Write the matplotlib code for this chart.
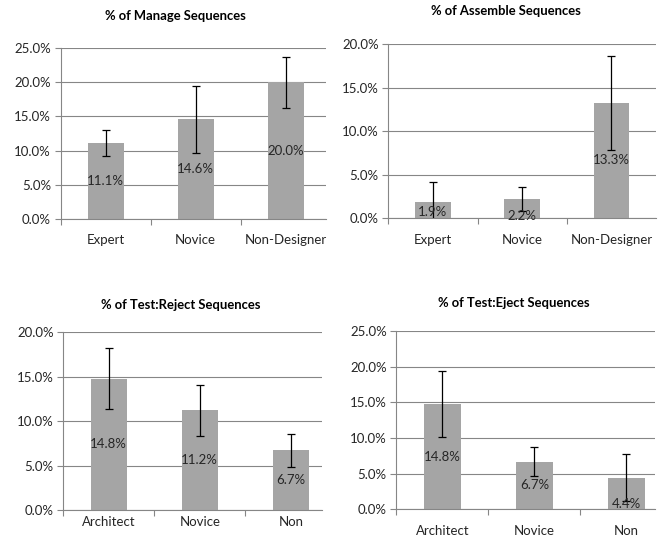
import matplotlib.pyplot as plt

plt.rcParams['font.family'] = ['Lato', 'DejaVu Sans']

# Datos de cada panel (porcentaje y error)
cat_top = ['Expert', 'Novice', 'Non-Designer']
cat_bottom = ['Architect', 'Novice', 'Non']

manage = [11.1, 14.6, 20.0]
manage_err = [1.9, 4.9, 3.75]

assemble = [1.9, 2.2, 13.3]
assemble_err = [2.3, 1.4, 5.4]

reject = [14.8, 11.2, 6.7]
reject_err = [3.4, 2.9, 1.9]

eject = [14.8, 6.7, 4.4]
eject_err = [4.6, 2.05, 3.3]

W, H = 660, 537
fig = plt.figure(figsize=(W / 100, H / 100), dpi=100)

barra = '#A5A5A5'
rejilla = '#868686'


def px_ax(left, right, top, bottom):
    return fig.add_axes([left / W, (H - bottom) / H, (right - left) / W, (bottom - top) / H])


# (titulo, categorias, valores, errores, ymax, xmax, caja px, titulo px, pad x, desplaz. etiquetas)
paneles = [
    ('% of Manage Sequences', cat_top, manage, manage_err, 25, 2.45,
     (60.7, 326.2, 48, 219), (175, 16), 11, [0, 0, 0]),
    ('% of Assemble Sequences', cat_top, assemble, assemble_err, 20, 2.5,
     (388.3, 656, 44.3, 218.3), (506, 11), 11, [-0.25, -0.8, 0]),
    ('% of Test:Reject Sequences', cat_bottom, reject, reject_err, 20, 2.34,
     (63.3, 321.7, 332.3, 510), (181, 305), 4, [0, 0, 0]),
    ('% of Test:Eject Sequences', cat_bottom, eject, eject_err, 25, 2.31,
     (396.5, 655, 331, 509.3), (514, 302.7), 11, [0, 0, -1.4]),
]

for titulo, cats, vals, errs, ymax, xmax, caja, tpos, padx, desp in paneles:
    ax = px_ax(*caja)
    x = list(range(len(cats)))
    ax.bar(x, vals, width=0.4, color=barra, zorder=2)
    ax.errorbar(x, vals, yerr=errs, fmt='none', ecolor='black', elinewidth=0.9,
                capsize=3, capthick=0.9, zorder=3)
    for xi, v, d in zip(x, vals, desp):
        ax.text(xi, v / 2 + d, f'{v:.1f}%', ha='center', va='center',
                fontsize=9.5, color='#262626', zorder=4)

    ax.set_xlim(-0.5, xmax)
    ax.set_ylim(0, ymax)
    ticks = [i * 5 for i in range(ymax // 5 + 1)]
    ax.set_yticks(ticks)
    ax.set_yticklabels([f'{t:.1f}%' for t in ticks])
    ax.yaxis.grid(True, color=rejilla, linewidth=0.8, zorder=0)
    ax.set_axisbelow(True)

    # Marcas del eje x entre categorias, etiquetas centradas
    ax.set_xticks([-0.5, 0.5, 1.5], minor=False)
    ax.set_xticklabels([])
    ax.set_xticks(x, minor=True)
    ax.set_xticklabels(cats, minor=True)
    ax.tick_params(axis='x', which='major', length=4, color=rejilla, direction='out')
    ax.tick_params(axis='x', which='minor', length=0, pad=padx, labelsize=9.5,
                   labelcolor='#262626')
    ax.tick_params(axis='y', length=4, color=rejilla, labelsize=9.5,
                   labelcolor='#262626', pad=3)

    for s in ['top', 'right']:
        ax.spines[s].set_visible(False)
    for s in ['left', 'bottom']:
        ax.spines[s].set_color(rejilla)
        ax.spines[s].set_linewidth(0.8)

    fig.text(tpos[0] / W, (H - tpos[1]) / H, titulo, ha='center', va='center',
             fontsize=9.4, fontweight='bold', color='black')

fig.savefig('out.png', dpi=100)
